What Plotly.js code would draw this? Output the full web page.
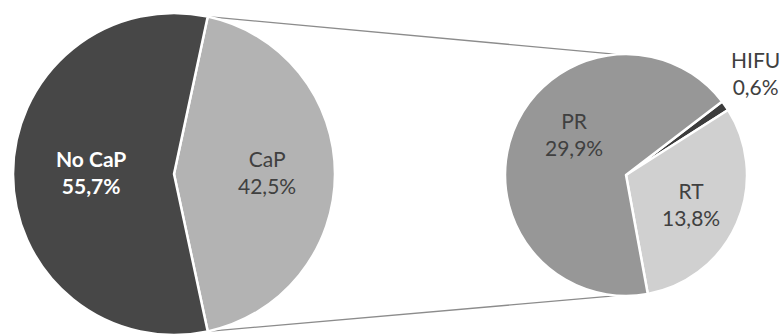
<!DOCTYPE html>
<html>
<head>
<meta charset="utf-8">
<script src="https://cdn.plot.ly/plotly-3.0.1.min.js"></script>
<style>html,body{margin:0;padding:0;background:#fff;}#chart{width:783px;height:336px;}</style>
</head>
<body>
<div id="chart"></div>
<script>
// ---- data ----
const mainLabels = ['CaP', 'No CaP'];
const mainValues = [42.5, 55.7];
const subLabels = ['HIFU', 'RT', 'PR'];
const subValues = [0.6, 13.8, 29.9];

// ---- styling / geometry ----
const W = 783, H = 336;
const L = {cx: 174, cy: 174, r: 161};
const R = {cx: 626, cy: 175, r: 121};
const mainColors = ['#b3b3b3', '#474747'];
const subColors = ['#3c3c3c', '#d0d0d0', '#979797'];
const FONT = 'Lato, Calibri, Carlito, sans-serif';

function domainOf(p) {
  return {
    x: [(p.cx - p.r) / W, (p.cx + p.r) / W],
    y: [(H - p.cy - p.r) / H, (H - p.cy + p.r) / H]
  };
}
function px2paper(x, y) { return [x / W, (H - y) / H]; }
function fmt(v) { return v.toFixed(1).replace('.', ',') + '%'; }

const mainTotal = mainValues.reduce((a, b) => a + b, 0);
const capAngle = mainValues[0] / mainTotal * 360;
const mainRotation = 90 - capAngle / 2;

const traces = [
  {
    type: 'pie', labels: mainLabels, values: mainValues, sort: false,
    direction: 'clockwise', rotation: mainRotation,
    domain: domainOf(L), textinfo: 'none', hoverinfo: 'skip',
    marker: {colors: mainColors, line: {color: '#ffffff', width: 2.5}},
    showlegend: false
  },
  {
    type: 'pie', labels: subLabels, values: subValues, sort: false,
    direction: 'clockwise', rotation: 52.6,
    domain: domainOf(R), textinfo: 'none', hoverinfo: 'skip',
    marker: {colors: subColors, line: {color: '#ffffff', width: 2.5}},
    showlegend: false
  }
];

// connector lines from the CaP slice edges to the secondary pie
const a1 = (mainRotation) * Math.PI / 180;
const a2 = (mainRotation + capAngle) * Math.PI / 180;
const p1 = [L.cx + L.r * Math.sin(a1), L.cy - L.r * Math.cos(a1)];
const p2 = [L.cx + L.r * Math.sin(a2), L.cy - L.r * Math.cos(a2)];
const q1 = [R.cx - 0.075 * R.r, R.cy - R.r * 0.997];
const q2 = [R.cx - 0.075 * R.r, R.cy + R.r * 0.997];
function seg(a, b) {
  const A = px2paper(a[0], a[1]), B = px2paper(b[0], b[1]);
  return {type: 'line', xref: 'paper', yref: 'paper', x0: A[0], y0: A[1], x1: B[0], y1: B[1],
    line: {color: '#8c8c8c', width: 1.3}, layer: 'below'};
}

// label positions (offsets from pie centres, px)
const mainLabelPos = [[93, -2.5], [-83, -2]];
const subLabelPos = [[129, -102.5], [65, 29], [-52, -41]];
const annotations = [];
mainLabels.forEach((lab, i) => {
  const p = px2paper(L.cx + mainLabelPos[i][0], L.cy + mainLabelPos[i][1]);
  const bold = lab === 'No CaP';
  const txt = bold ? '<b>' + lab + '</b><br><b>' + fmt(mainValues[i]) + '</b>' : lab + '<br>' + fmt(mainValues[i]);
  annotations.push({xref: 'paper', yref: 'paper', x: p[0], y: p[1], xanchor: 'center', yanchor: 'middle',
    text: txt, showarrow: false, align: 'center',
    font: {family: FONT, size: 21, color: bold ? '#ffffff' : '#404040'}});
});
subLabels.forEach((lab, i) => {
  const p = px2paper(R.cx + subLabelPos[i][0], R.cy + subLabelPos[i][1]);
  annotations.push({xref: 'paper', yref: 'paper', x: p[0], y: p[1], xanchor: 'center', yanchor: 'middle',
    text: lab + '<br>' + fmt(subValues[i]), showarrow: false, align: 'center',
    font: {family: FONT, size: 21, color: '#404040'}});
});

const layout = {
  width: W, height: H, margin: {l: 0, r: 0, t: 0, b: 0},
  paper_bgcolor: '#ffffff', plot_bgcolor: '#ffffff',
  shapes: [seg(p1, q1), seg(p2, q2)],
  annotations: annotations,
  showlegend: false
};

Plotly.newPlot('chart', traces, layout, {staticPlot: true, displayModeBar: false});
</script>
</body>
</html>
